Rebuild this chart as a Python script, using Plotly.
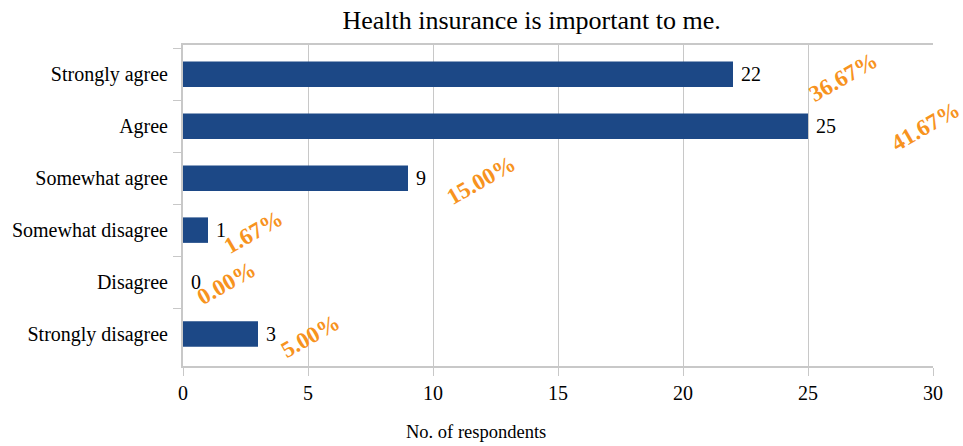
import plotly.graph_objects as go

categories = ["Strongly agree", "Agree", "Somewhat agree", "Somewhat disagree", "Disagree", "Strongly disagree"]
counts = [22, 25, 9, 1, 0, 3]
x_ticks = [0, 5, 10, 15, 20, 25, 30]

total = sum(counts)
percents = [f"{c / total * 100:.2f}%" for c in counts]

# style: offset (data units) of rotated percentage labels from bar ends
pct_dx = [4.4, 4.7, 2.92, 1.8, 1.72, 2.08]
pct_dy = [0.06, 0.0, 0.05, 0.05, 0.03, 0.05]

FONT = "Times New Roman, Liberation Serif, serif"
BAR = "#1c4886"
ORANGE = "#f7931e"
GRID = "#c8c8c8"

fig = go.Figure()
fig.add_trace(go.Bar(
    y=categories, x=counts, orientation="h",
    marker=dict(color=BAR, line=dict(width=0)),
    text=[" " + str(c) for c in counts], textposition="outside",
    textfont=dict(family=FONT, size=20, color="black"),
    cliponaxis=False, showlegend=False,
))

for i, (cat, c, p) in enumerate(zip(categories, counts, percents)):
    fig.add_annotation(
        x=c + pct_dx[i], y=i + pct_dy[i], xref="x", yref="y",
        text=f"<b>{p}</b>", showarrow=False, textangle=-30,
        font=dict(family=FONT, size=23, color=ORANGE),
        xanchor="center", yanchor="middle",
    )

fig.add_annotation(
    x=0.39, y=-0.206, xref="paper", yref="paper",
    text="No. of respondents", showarrow=False,
    font=dict(family=FONT, size=18.5, color="black"),
    xanchor="center", yanchor="middle",
)

fig.update_layout(
    width=963, height=446,
    margin=dict(l=183, r=30, t=45, b=80),
    paper_bgcolor="white", plot_bgcolor="white",
    bargap=0.51,
    font=dict(family=FONT, color="black"),
    title=dict(text="Health insurance is important to me.", x=0.552, y=0.955,
               xanchor="center", yanchor="middle",
               font=dict(family=FONT, size=26, color="black")),
    xaxis=dict(range=[0, 30], tickvals=x_ticks, ticktext=[str(t) for t in x_ticks],
               showgrid=True, gridcolor=GRID, gridwidth=1,
               showline=True, linecolor=GRID, linewidth=2, mirror=True,
               ticks="outside", ticklen=8, tickcolor=GRID, tickwidth=1,
               tickfont=dict(family=FONT, size=20, color="black"),
               zeroline=False, fixedrange=True),
    yaxis=dict(categoryorder="array", categoryarray=categories, autorange="reversed",
               showgrid=False, showline=True, linecolor=GRID, linewidth=2,
               ticks="outside", ticklen=8, tickcolor=GRID, tickwidth=1,
               tickson="boundaries", ticklabelstandoff=9,
               tickfont=dict(family=FONT, size=20, color="black"),
               fixedrange=True),
)

fig.write_html("out.html")
